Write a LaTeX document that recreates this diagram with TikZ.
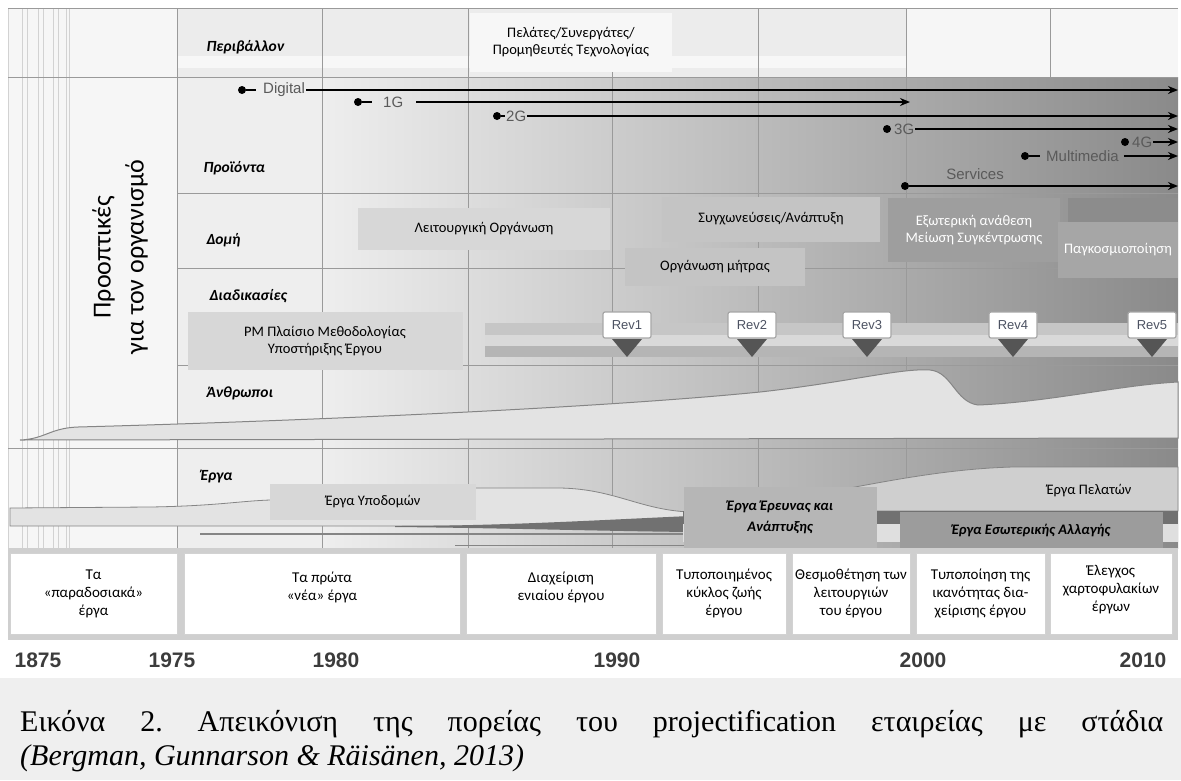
\documentclass[tikz,border=0pt]{standalone}
\usepackage{fontspec}
\setmainfont{Carlito}
\newfontfamily\axisfont{Liberation Sans}
\newfontfamily\capfont{Liberation Serif}
\usetikzlibrary{arrows.meta}

\definecolor{capbg}{HTML}{EFEFEF}
\definecolor{colbg}{HTML}{F6F6F6}
\definecolor{headbg}{HTML}{ECECEC}
\definecolor{gridln}{HTML}{9A9A9A}
\definecolor{gradL}{HTML}{EEEEEE}
\definecolor{gradR}{HTML}{8A8A8A}
\definecolor{bandfill}{HTML}{E3E3E3}
\definecolor{bandline}{HTML}{858585}
\definecolor{boxA}{HTML}{D7D7D7}
\definecolor{boxB}{HTML}{C4C4C4}
\definecolor{boxC}{HTML}{9E9E9E}
\definecolor{boxD}{HTML}{A6A6A6}
\definecolor{boxE}{HTML}{8C8C8C}
\definecolor{rdbox}{HTML}{B6B6B6}
\definecolor{icbox}{HTML}{9C9C9C}
\definecolor{custbox}{HTML}{CFCFCF}
\definecolor{darkbar}{HTML}{717171}
\definecolor{tlgrey}{HTML}{5A5A5A}
\definecolor{revtxt}{HTML}{4C5262}
\definecolor{revtri}{HTML}{555555}
\definecolor{yeartxt}{HTML}{3C3C3C}
\definecolor{stagebg}{HTML}{CFCFCF}

\tikzset{
  rowlab/.style={anchor=west, font=\fontsize{15.5}{18}\selectfont\bfseries\itshape},
  plain/.style={font=\fontsize{14.5}{17.5}\selectfont, align=center},
  tagbox/.style={plain, inner sep=0pt},
  tl/.style={font=\axisfont\fontsize{15}{17}\selectfont, text=tlgrey, inner sep=1pt},
  dotn/.style={circle, fill=black, inner sep=0pt, minimum size=8pt},
  arr/.style={line width=2.4pt, -{Stealth[length=10pt,width=8pt]}},
  stub/.style={line width=2.4pt},
  revbox/.style={draw=gray!70, line width=1.2pt, fill=white, rounded corners=2pt,
    minimum width=48pt, minimum height=26pt, inner sep=0pt,
    font=\axisfont\fontsize{13}{15}\selectfont, text=revtxt},
  stagebox/.style={fill=white, draw=gray!35, line width=0.6pt},
  stagetxt/.style={font=\fontsize{15}{18}\selectfont, align=center},
  yearlab/.style={font=\axisfont\bfseries\fontsize{21}{24}\selectfont, text=yeartxt},
  grid/.style={draw=gridln, line width=0.8pt},
  leftln/.style={draw=gray!35, line width=0.7pt}
}

\begin{document}
\frenchspacing
\begin{tikzpicture}[x=1pt,y=-1pt]
\useasboundingbox (0,0) rectangle (1181,780);
\fill[white] (0,0) rectangle (1181,780);
\fill[capbg] (0,678) rectangle (1181,780);

% left column with its thin rules
\fill[colbg] (8,8) rectangle (177,548);
\foreach \lx in {22,27,38,43,53,58,66,69}
  \draw[leftln] (\lx,8) -- (\lx,548);
\draw[leftln] (8,8) -- (8,548);

% header row
\fill[headbg] (177,8) rectangle (1178,77);
\fill[white!60!headbg] (177,56) rectangle (1178,68);
\fill[white!50!headbg] (906,8) rectangle (1178,77);

% body with left-to-right darkening
\fill[gradL] (177,77) rectangle (322,548);
\shade[left color=gradL, right color=gradR] (322,77) rectangle (1178,548);

% grid
\draw[grid] (8,8) -- (1178,8);
\draw[grid] (177,8) -- (177,548);
\foreach \gx in {322,468,758,906}
  \draw[grid] (\gx,8) -- (\gx,548);
\draw[grid] (612,72) -- (612,548);
\draw[grid] (1050,8) -- (1050,77);
\draw[grid] (8,77) -- (1178,77);
\foreach \gy in {193,268,365}
  \draw[grid] (177,\gy) -- (1178,\gy);
\draw[grid] (8,448) -- (1178,448);

% vertical title
\node[rotate=90, align=center, font=\fontsize{26}{33}\selectfont] (title) at (120,257)
  {Προοπτικές\\για τον οργανισμό};

% row labels
\node[rowlab] (lenv) at (203,47) {Περιβάλλον};
\node[rowlab] (lprod) at (200,168) {Προϊόντα};
\node[rowlab] (lstr) at (203,240) {Δομή};
\node[rowlab] (lproc) at (206,296) {Διαδικασίες};
\node[rowlab] (lpeople) at (203,393) {Άνθρωποι};
\node[rowlab] (lproj) at (197,477) {Έργα};

% environment box
\node[tagbox, fill=white!60!headbg, minimum width=202pt, minimum height=59pt] (env) at (571,42)
  {Πελάτες/Συνεργάτες/\\Προμηθευτές Τεχνολογίας};

% product lines
\node[dotn] (dDig) at (242,90) {};
\node[tl, anchor=west] (tDig) at (262,90) {Digital};
\coordinate (eDig) at (1178,90);
\draw[stub] (dDig) -- (256,90);
\draw[arr] (tDig) -- (eDig);

\node[dotn] (d1G) at (358,102) {};
\node[tl, anchor=west] (t1G) at (382,102) {1G};
\coordinate (e1G) at (910,102);
\draw[stub] (d1G) -- (372,102);
\draw[arr, shorten <=12pt] (t1G) -- (e1G);

\node[dotn] (d2G) at (497,116) {};
\node[tl, anchor=west] (t2G) at (505,116) {2G};
\coordinate (e2G) at (1178,116);
\draw[stub] (d2G) -- (t2G);
\draw[arr] (t2G) -- (e2G);

\node[dotn] (d3G) at (887,129) {};
\node[tl, anchor=west] (t3G) at (893,129) {3G};
\coordinate (e3G) at (1178,129);
\draw[arr] (t3G) -- (e3G);

\node[dotn] (d4G) at (1125,142) {};
\node[tl, anchor=west] (t4G) at (1131,142) {4G};
\coordinate (e4G) at (1178,142);
\draw[arr] (t4G) -- (e4G);

\node[dotn] (dMM) at (1025,156) {};
\node[tl, anchor=west] (tMM) at (1045,156) {Multimedia};
\coordinate (eMM) at (1178,156);
\draw[stub] (dMM) -- (1040,156);
\draw[arr, shorten <=4pt] (tMM) -- (eMM);

\node[tl] (tSv) at (975,174) {Services};
\node[dotn] (dSv) at (905,186) {};
\coordinate (eSv) at (1178,186);
\draw[arr] (dSv) -- (eSv);

% structure boxes
\node[tagbox, fill=boxA, minimum width=252pt, minimum height=42pt] (func) at (484,229) {Λειτουργική Οργάνωση};
\node[tagbox, fill=boxB, minimum width=218pt, minimum height=45pt] (merge) at (771,219) {Συγχωνεύσεις/Ανάπτυξη};
\node[tagbox, fill=boxB, minimum width=180pt, minimum height=38pt] (matrix) at (715,267) {Οργάνωση μήτρας};
\fill[boxE] (1068,198) rectangle (1178,222);
\node[tagbox, fill=boxC, text=white, minimum width=172pt, minimum height=64pt] (outs) at (974,230)
  {Εξωτερική ανάθεση\\Μείωση Συγκέντρωσης};
\node[tagbox, fill=boxD, text=white, minimum width=120pt, minimum height=56pt] (glob) at (1118,250) {Παγκοσμιοποίηση};

% process box and revision stripe
\node[tagbox, fill=boxA, minimum width=275pt, minimum height=58pt] (pmf) at (325,341)
  {PM Πλαίσιο Μεθοδολογίας\\Υποστήριξης Έργου};
\fill[gray!45] (485,323) rectangle (1178,335);
\fill[gray!30] (485,335) rectangle (1178,346);
\fill[gray!58] (485,346) rectangle (1178,357);
\foreach \rx/\rn in {627/1,752/2,867/3,1013/4,1152/5}{
  \fill[revtri] (\rx-15,339) -- (\rx+15,339) -- (\rx,357) -- cycle;
  \node[revbox] (rev\rn) at (\rx,325) {Rev\rn};
}

% people band
\filldraw[fill=bandfill, draw=bandline, line width=1pt]
  (20,440) .. controls (45,439) and (50,428) .. (78,427)
  .. controls (300,421) and (600,408) .. (760,392)
  .. controls (850,382) and (900,368) .. (930,370)
  .. controls (952,372) and (955,402) .. (978,405)
  .. controls (1050,402) and (1120,385) .. (1178,382)
  -- (1178,438) -- cycle;

% project bars
\filldraw[fill=bandfill, draw=bandline, line width=0.8pt]
  (10,508) -- (150,507) .. controls (215,506) and (240,501) .. (270,500)
  -- (476,488) -- (560,488) .. controls (615,489) and (640,510) .. (690,512)
  -- (690,526) -- (10,526) -- cycle;
\fill[darkbar] (395,526) .. controls (500,526) and (600,520) .. (690,516)
  -- (690,532) .. controls (600,531) and (500,528) .. (395,527) -- cycle;
\draw[bandline, line width=1.4pt] (200,534) -- (690,534);
\draw[bandline, line width=1pt] (455,545) -- (690,545);
\filldraw[fill=custbox, draw=bandline, line width=0.8pt]
  (690,511) .. controls (800,505) and (900,470) .. (1013,467) -- (1178,467) -- (1178,511) -- cycle;
\fill[darkbar] (683,511) rectangle (1178,524);
\fill[gray!25] (683,524) rectangle (1178,542);

\node[tagbox, fill=boxA, minimum width=206pt, minimum height=36pt] (infra) at (373,502) {Έργα Υποδομών};
\node[tagbox, fill=rdbox, font=\fontsize{14.5}{21}\selectfont\bfseries\itshape, minimum width=193pt, minimum height=61pt] (rd) at (780,517)
  {Έργα Έρευνας και\\Ανάπτυξης};
\node[tagbox, fill=custbox, minimum width=148pt, minimum height=34pt] (cust) at (1089,491) {Έργα Πελατών};
\node[tagbox, fill=icbox, font=\fontsize{14.5}{17}\selectfont\bfseries\itshape, minimum width=263pt, minimum height=37pt] (intl) at (1031,530)
  {Έργα Εσωτερικής Αλλαγής};

% stages row
\fill[stagebg] (8,548) rectangle (1178,640);
\node[stagebox, minimum width=167pt, minimum height=81pt] (s1) at (93.5,593.5) {};
\node[stagebox, minimum width=276pt, minimum height=81pt] (s2) at (322,593.5) {};
\node[stagebox, minimum width=190pt, minimum height=81pt] (s3) at (561,593.5) {};
\node[stagebox, minimum width=124pt, minimum height=81pt] (s4) at (724,593.5) {};
\node[stagebox, minimum width=118pt, minimum height=81pt] (s5) at (851,593.5) {};
\node[stagebox, minimum width=129pt, minimum height=81pt] (s6) at (980.5,593.5) {};
\node[stagebox, minimum width=122pt, minimum height=81pt] (s7) at (1111,593.5) {};
\node[stagetxt] at (s1) {Τα\\«παραδοσιακά»\\έργα};
\node[stagetxt] at (322,587) {Τα πρώτα\\«νέα» έργα};
\node[stagetxt] at (561,587) {Διαχείριση\\ενιαίου έργου};
\node[stagetxt] at (s4) {Τυποποιημένος\\κύκλος ζωής\\έργου};
\node[stagetxt] at (s5) {Θεσμοθέτηση των\\λειτουργιών\\του έργου};
\node[stagetxt] at (s6) {Τυποποίηση της\\ικανότητας  δια-\\χείρισης έργου};
\node[stagetxt] at (1111,590) {Έλεγχος\\χαρτοφυλακίων\\έργων};

% years
\node[yearlab] (y1875) at (38,660) {1875};
\node[yearlab] (y1975) at (172,660) {1975};
\node[yearlab] (y1980) at (336,660) {1980};
\node[yearlab] (y1990) at (617,660) {1990};
\node[yearlab] (y2000) at (923,660) {2000};
\node[yearlab] (y2010) at (1143,660) {2010};

% caption
\node[anchor=base west, inner sep=0pt, font=\capfont\fontsize{30}{34}\selectfont] (cap1) at (20,731)
  {\makebox[1143pt][s]{Εικόνα 2. Απεικόνιση της πορείας του projectification εταιρείας με στάδια}};
\node[anchor=base west, inner sep=0pt, font=\capfont\itshape\fontsize{30}{34}\selectfont] (cap2) at (20,765)
  {(Bergman, Gunnarson \& Räisänen, 2013)};
\end{tikzpicture}
\end{document}
